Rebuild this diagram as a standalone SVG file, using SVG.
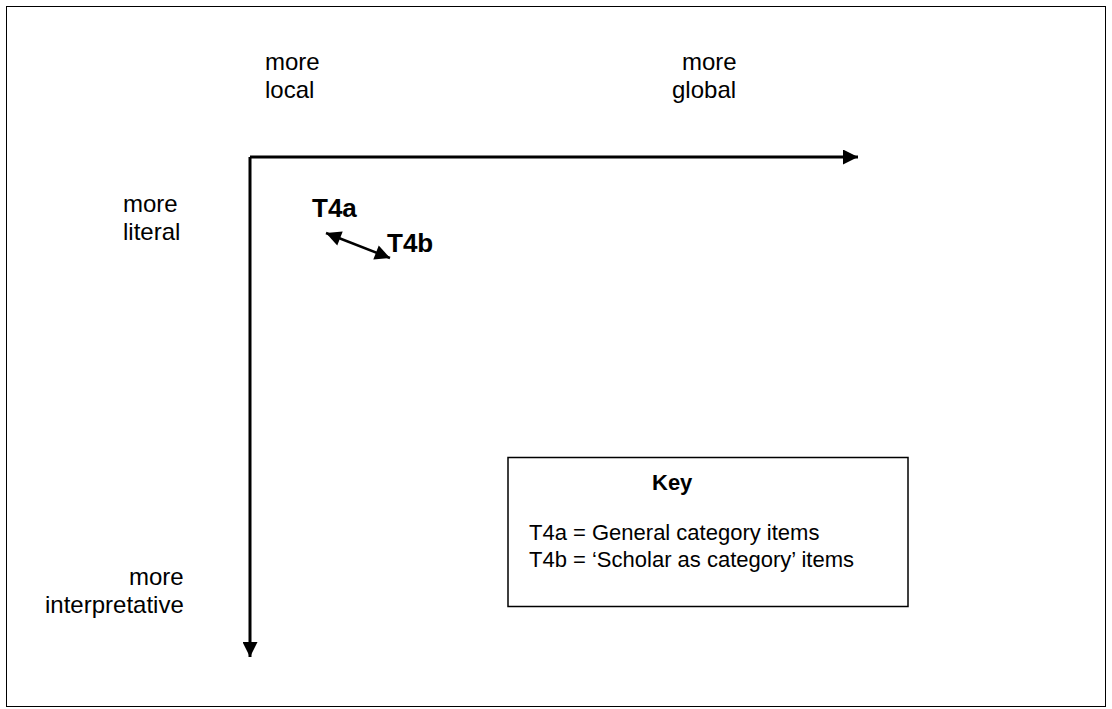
<svg xmlns="http://www.w3.org/2000/svg" width="1112" height="709" viewBox="0 0 1112 709">
<style>
text{font-family:"Liberation Sans",Arial,sans-serif;font-size:24px;fill:#000}
.b{font-weight:bold;font-size:26px}
.k{font-size:22px}
</style>
<defs>
<marker id="ah" viewBox="0 0 10 10" refX="10" refY="5" markerWidth="5.5" markerHeight="5" orient="auto-start-reverse" markerUnits="strokeWidth"><path d="M0,0L10,5L0,10z" fill="#000"/></marker>
<marker id="ah2" viewBox="0 0 10 10" refX="10" refY="5" markerWidth="7" markerHeight="6" orient="auto-start-reverse" markerUnits="strokeWidth"><path d="M0,0L10,5L0,10z" fill="#000"/></marker>
</defs>
<rect x="0" y="0" width="1112" height="709" fill="#fff"/>
<rect x="6.5" y="6.5" width="1099" height="700" fill="none" stroke="#000" stroke-width="1"/>
<g id="connectors" stroke="#000" fill="none">
<path d="M250,157H858" stroke-width="3" marker-end="url(#ah)"/>
<path d="M250,157V657" stroke-width="3" marker-end="url(#ah)"/>
<path d="M326,233L390,258" stroke-width="2.5" marker-start="url(#ah2)" marker-end="url(#ah2)"/>
</g>
<g id="labels">
<text x="265" y="70">more</text><text x="265" y="98">local</text>
<text x="682" y="70">more</text><text x="672" y="98">global</text>
<text x="123" y="212">more</text><text x="123" y="240">literal</text>
<text x="129" y="585">more</text><text x="45" y="613">interpretative</text>
</g>
<g id="T4a"><text class="b" x="312" y="217">T4a</text></g>
<g id="T4b"><text class="b" x="387" y="252">T4b</text></g>
<g id="key">
<rect x="508" y="457.5" width="400" height="149" fill="#fff" stroke="#000" stroke-width="1.5"/>
<text class="k" x="652" y="490" font-weight="bold">Key</text>
<text class="k" x="529" y="540">T4a = General category items</text>
<text class="k" x="529" y="567">T4b = ‘Scholar as category’ items</text>
</g>
</svg>
